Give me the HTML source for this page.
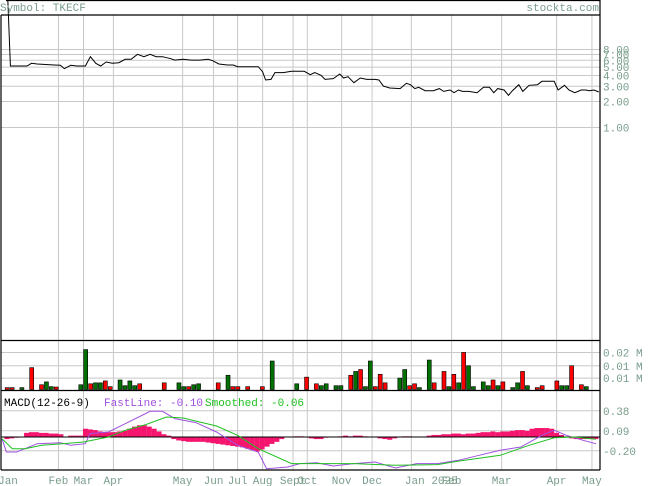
<!DOCTYPE html>
<html><head><meta charset="utf-8">
<style>
html,body{margin:0;padding:0;background:#fff;}
svg{display:block;}
text{font-family:"Liberation Mono","DejaVu Sans Mono",monospace;font-size:11px;}
</style></head>
<body>
<svg id="chart" width="655" height="486" viewBox="0 0 655 486">
<g id="grid"></g>
<g id="marks"></g>
<g id="frame"></g>
<g id="labels"></g>
</svg>
<script>
// ---- data ----
const monthLabels = ["Jan","Feb","Mar","Apr","May","Jun","Jul","Aug","Sept","Oct","Nov","Dec","Jan 2025","Feb","Mar","Apr","May"];
const monthTimes = [0.2,10.5,15.6,21.7,35.8,42.1,47.0,52.1,58.3,61.2,68.2,74.4,82.4,90.6,100.8,112.0,119.2];
const priceTicks = [8,7,6,5,4,3,2,1];
const priceTickLabels = ["8.00","7.00","6.00","5.00","4.00","3.00","2.00","1.00"];
const priceT = [0.1,0.7,4.1,5.0,6.2,9.6,10.9,11.7,13.0,14.3,16.0,17.0,18.1,19.1,20.2,21.5,22.8,24.1,25.3,26.6,27.9,29.2,30.4,31.7,33.4,34.2,35.9,37.6,39.3,41.0,41.9,43.2,44.9,46.1,47.0,49.5,51.2,52.1,52.7,53.8,54.6,56.3,58.0,60.6,61.8,62.7,64.0,64.8,66.5,67.8,68.6,69.5,70.7,72.0,73.3,75.0,75.8,76.7,78.0,80.1,81.4,82.2,83.1,83.9,85.2,86.9,88.1,89.0,90.3,91.1,92.0,92.8,94.1,95.8,97.1,98.3,99.2,100.0,101.3,102.2,103.0,104.3,105.1,106.4,108.1,109.0,111.5,112.3,113.6,114.5,115.7,117.0,117.9,118.7,119.6,120.6];
const priceV = [40,5.16,5.16,5.54,5.44,5.30,5.25,4.80,5.25,5.16,5.16,6.61,5.54,5.16,5.74,5.54,5.63,6.17,6.17,7.05,6.61,7.05,6.61,6.61,6.27,6.04,6.17,6.04,6.04,6.17,5.94,5.44,5.30,5.30,5.06,5.06,5.06,4.43,3.55,3.61,4.32,4.32,4.48,4.48,4.09,4.32,4.02,3.61,3.68,4.16,3.74,3.88,3.30,3.74,3.61,3.61,3.55,3.02,2.87,2.82,3.25,3.13,2.82,2.92,2.67,2.67,2.82,2.62,2.72,2.53,2.72,2.62,2.62,2.53,2.92,2.92,2.53,2.82,2.72,2.36,2.67,3.13,2.62,3.08,3.13,3.43,3.43,2.72,3.08,2.72,2.53,2.72,2.72,2.67,2.72,2.58];
const volSlot = [0,1,3,5,7,8,9,10,15,16,17,18,19,20,21,23,24,25,26,27,32,35,36,37,38,39,43,45,46,47,49,52,54,59,61,63,64,65,67,68,70,71,72,73,74,75,76,77,80,81,82,83,84,86,87,89,90,91,92,93,94,95,97,98,99,100,101,103,104,105,106,108,109,112,113,114,115,117,118];
const volK = [1,1,1,11.5,2.5,4,1.5,1.3,2.5,21,3,3.5,3.5,4.5,1.5,5,2,4.5,2,3,3.5,3.5,1.5,1.5,2.5,3,3.5,7.5,1.5,1.5,1.5,1.5,15,3,6.5,3,2,3,2,2,7.5,9.5,10.5,1.5,15,1.5,8,3.5,6,10.5,2,3,1,15.5,3.5,9.5,1.5,8,3.5,19.5,12.5,1.5,4,2,5,2,4,1,3.5,9.5,2,1,2,4.5,2,2,12.5,2.5,1.5];
const volUp = [0,0,1,0,0,1,1,0,1,1,0,1,1,0,0,1,1,1,1,0,0,1,1,0,1,1,0,1,0,0,0,0,1,1,0,0,1,1,1,1,0,1,0,1,1,0,0,0,1,1,0,0,1,1,0,0,1,0,1,0,1,1,1,1,0,1,0,1,1,0,1,0,0,0,1,1,0,0,1];
const volTickLabels = ["0.02 M","0.01 M","0.01 M"];
const volTickK = [19.5,12.5,6.0];
const histV = [-0.03,-0.02,-0.01,0.0,0.06,0.07,0.07,0.06,0.06,0.05,0.05,0.04,0.0,0.02,0.02,0.02,0.12,0.11,0.10,0.08,0.07,0.07,0.07,0.08,0.09,0.12,0.15,0.17,0.17,0.15,0.12,0.08,0.04,0.02,-0.03,-0.05,-0.06,-0.07,-0.07,-0.07,-0.07,-0.08,-0.09,-0.10,-0.11,-0.12,-0.13,-0.14,-0.15,-0.17,-0.19,-0.21,-0.18,-0.14,-0.10,-0.07,-0.03,0.0,0.0,0.01,0.01,0.0,-0.02,-0.03,-0.03,-0.01,0.0,0.0,0.01,0.02,0.01,0.02,0.02,0.01,0.0,0.0,-0.02,-0.03,-0.04,-0.02,0.0,0.01,0.01,0.0,0.0,0.0,0.02,0.03,0.03,0.04,0.04,0.05,0.05,0.04,0.05,0.05,0.06,0.07,0.07,0.08,0.07,0.08,0.08,0.09,0.10,0.10,0.09,0.12,0.13,0.13,0.13,0.12,0.06,0.03,0.0,-0.02,-0.03,-0.03,-0.03,-0.03,-0.03];
const fastT = [-1.0,-0.1,2.0,6.2,10.9,13.0,16.0,16.9,20.7,24.1,29.2,31.7,34.2,38.5,42.7,47.0,51.2,52.9,57.2,59.7,63.1,66.5,70.7,75.0,79.2,83.5,87.7,92.0,96.2,100.5,104.7,109.0,111.5,114.0,117.4,120.0];
const fastV = [-0.025,-0.217,-0.217,-0.097,-0.082,-0.12,-0.097,0.049,0.073,0.193,0.372,0.372,0.266,0.208,0.073,-0.12,-0.217,-0.459,-0.435,-0.386,-0.372,-0.42,-0.386,-0.362,-0.449,-0.386,-0.386,-0.338,-0.265,-0.193,-0.145,0.024,0.097,0.024,-0.048,-0.097];
const smoothT = [-1.0,1.1,3.7,7.1,11.3,15.6,20.7,24.1,28.3,32.5,35.9,42.7,47.0,51.2,58.0,70.7,79.2,87.7,92.0,100.5,106.4,111.5,115.7,120.0];
const smoothV = [-0.025,-0.169,-0.169,-0.12,-0.097,-0.072,0.0,0.097,0.18,0.29,0.275,0.16,0.024,-0.17,-0.386,-0.386,-0.41,-0.40,-0.35,-0.265,-0.12,-0.012,0.0,-0.034];
const macdTicks = [0.38,0.09,-0.20];
const macdTickLabels = ["0.38","0.09","-0.20"];

// ---- scales ----
const L=1, R=600, TOP=15;
const xS = t => 6.92 + 4.908*t;
const yP = p => 127.5 - 37.5*Math.log(p);
const VBASE=389.5;
const yV = k => VBASE - 1.9*k;
const yM = v => 437 - 69*v;
const NS="http://www.w3.org/2000/svg";
function mk(parent,tag,attrs){const e=document.createElementNS(NS,tag);for(const k in attrs)e.setAttribute(k,attrs[k]);document.getElementById(parent).appendChild(e);return e;}
const GRID="#c8c8c8", LBL="#7a9e8c";

monthTimes.forEach((t,i)=>{ if(i===0) return;
  const e=mk("grid","line",{x1:xS(t),x2:xS(t),y1:TOP,y2:470,stroke:GRID,"stroke-width":1});
  
  
});
priceTicks.forEach((p,i)=>{
  const e=mk("grid","line",{x1:L,x2:R,y1:yP(p),y2:yP(p),stroke:GRID,"stroke-width":1});
  
  
  const t=mk("labels","text",{x:603,y:yP(p)+4,fill:LBL});
  t.textContent=priceTickLabels[i];
  
  
});
volTickK.forEach((k,i)=>{
  const e=mk("grid","line",{x1:L,x2:R,y1:yV(k),y2:yV(k),stroke:GRID});
  
  
  const t=mk("labels","text",{x:603,y:yV(k)+4,fill:LBL});
  t.textContent=volTickLabels[i];
  
  
});
macdTicks.forEach((v,i)=>{
  const e=mk("grid","line",{x1:L,x2:R,y1:yM(v),y2:yM(v),stroke:GRID});
  
  
  const t=mk("labels","text",{x:603,y:yM(v)+4,fill:LBL});
  t.textContent=macdTickLabels[i];
  
  
});
monthTimes.forEach((t,i)=>{
  const lab=monthLabels[i];
  const x = i===0 ? 8 : (lab==="Jan 2025" ? xS(t)+20 : xS(t));
  const e=mk("labels","text",{x:x,y:484,fill:LBL,"text-anchor":"middle"});
  e.textContent=lab;
  
  
});

mk("marks","clipPath",{id:"pc"});
mk("pc","rect",{x:L,y:0,width:R-L,height:340});
const pl=mk("marks","polyline",{points:priceT.map((t,i)=>xS(t).toFixed(1)+","+yP(priceV[i]).toFixed(1)).join(" "),fill:"none",stroke:"#000","stroke-width":1,"clip-path":"url(#pc)"});



volSlot.forEach((s,i)=>{
  const x=xS(s)-1.75, y=yV(volK[i]);
  const b=mk("marks","rect",{x:x,y:y,width:4,height:VBASE-y,fill:volUp[i]?"#007000":"#ff0000",stroke:"#000","stroke-width":0.6});
  
  
});

histV.forEach((v,i)=>{
  const x0=xS(i)-2.5, y0=Math.min(yM(0),yM(v)), h=Math.abs(yM(v)-yM(0));
  const b=mk("marks","rect",{x:x0,y:y0,width:5,height:h,fill:"#f5146e"});
  
  
});
const zl=mk("marks","line",{x1:L,x2:R,y1:yM(0),y2:yM(0),stroke:"#000","stroke-width":1});


mk("marks","clipPath",{id:"mc"});
mk("mc","rect",{x:L,y:391,width:R-L,height:79});
const fl=mk("marks","polyline",{points:fastT.map((t,i)=>xS(t).toFixed(1)+","+yM(fastV[i]).toFixed(1)).join(" "),fill:"none",stroke:"#a050e0","stroke-width":1,"clip-path":"url(#mc)"});


const sl=mk("marks","polyline",{points:smoothT.map((t,i)=>xS(t).toFixed(1)+","+yM(smoothV[i]).toFixed(1)).join(" "),fill:"none",stroke:"#20c020","stroke-width":1,"clip-path":"url(#mc)"});



[[L,TOP,R,TOP],[L,TOP,L,470],[R,0,R,470],[L,470,R,470],[L,340.5,R,340.5],[L,390.5,R,390.5],[6,0.5,R,0.5]].forEach(s=>{
  const e=mk("frame","line",{x1:s[0],y1:s[1],x2:s[2],y2:s[3],stroke:"#000","stroke-width":1.2});
  
  
});

function txt(x,y,s,fill,name,anchor){const e=mk("labels","text",{x:x,y:y,fill:fill,"text-anchor":anchor||"start"});e.textContent=s;}
txt(0,11,"Symbol: TKECF",LBL,"symbol-title");
txt(599,11,"stockta.com",LBL,"site-name","end");
txt(4,406,"MACD(12-26-9)","#000","macd-title");
txt(104,406,"FastLine: -0.10","#a050e0","macd-fastline-legend");
txt(205,406,"Smoothed: -0.06","#20c020","macd-smoothed-legend");
</script>
</body></html>
